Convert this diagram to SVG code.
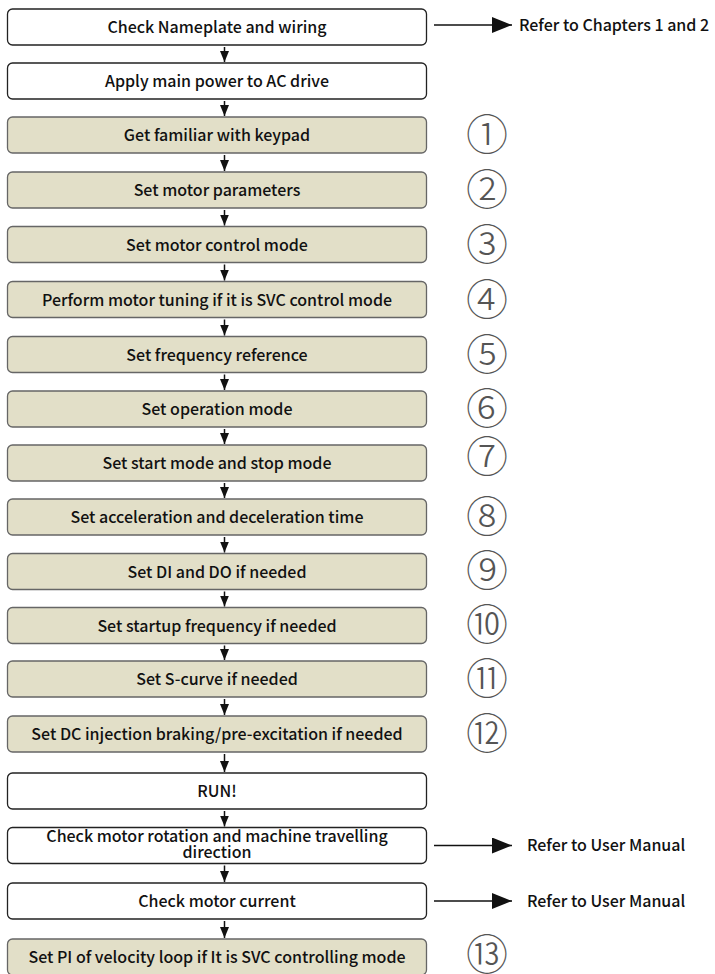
<svg xmlns="http://www.w3.org/2000/svg" width="715" height="974" viewBox="0 0 715 974">
<style>
  .bw { fill: #ffffff; stroke: #222222; stroke-width: 1.3; }
  .bb { fill: #e2dfc8; stroke: #666666; stroke-width: 1.3; }
  .t { font-family: "Noto Sans CJK SC", "Noto Sans", sans-serif; font-size: 16px; font-weight: 500; fill: #111111; text-anchor: middle; }
  .r { font-family: "Noto Sans CJK SC", "Noto Sans", sans-serif; font-size: 16px; font-weight: 500; fill: #111111; }
  .c { font-family: "Noto Sans CJK SC", sans-serif; font-size: 42px; font-weight: 300; fill: #555555; text-anchor: middle; }
  .v { stroke: #111111; stroke-width: 1.5; fill: none; marker-end: url(#vh); }
  .h { stroke: #111111; stroke-width: 1.5; fill: none; marker-end: url(#hh); }
</style>
<defs>
  <marker id="vh" markerUnits="userSpaceOnUse" markerWidth="11" markerHeight="9" refX="11" refY="4.5" orient="auto" viewBox="0 0 11 9">
    <path d="M0,0 L11,4.5 L0,9 Z" fill="#111111"/>
  </marker>
  <marker id="hh" markerUnits="userSpaceOnUse" markerWidth="20" markerHeight="16" refX="20" refY="8" orient="auto" viewBox="0 0 20 16">
    <path d="M0,0 L20,8 L0,16 Z" fill="#111111"/>
  </marker>
</defs>

<g id="n1"><rect class="bw" x="7.5" y="9" width="419" height="36" rx="5"/><text class="t" x="217" y="33">Check Nameplate and wiring</text></g>
<g id="n2"><rect class="bw" x="7.5" y="63" width="419" height="36" rx="5"/><text class="t" x="217" y="87">Apply main power to AC drive</text></g>
<g id="n3"><rect class="bb" x="7.5" y="117" width="419" height="36" rx="5"/><text class="t" x="217" y="141">Get familiar with keypad</text></g>
<g id="n4"><rect class="bb" x="7.5" y="172" width="419" height="36" rx="5"/><text class="t" x="217" y="196">Set motor parameters</text></g>
<g id="n5"><rect class="bb" x="7.5" y="226.5" width="419" height="36" rx="5"/><text class="t" x="217" y="250.5">Set motor control mode</text></g>
<g id="n6"><rect class="bb" x="7.5" y="281.5" width="419" height="36" rx="5"/><text class="t" x="217" y="305.5">Perform motor tuning if it is SVC control mode</text></g>
<g id="n7"><rect class="bb" x="7.5" y="336.5" width="419" height="36" rx="5"/><text class="t" x="217" y="360.5">Set frequency reference</text></g>
<g id="n8"><rect class="bb" x="7.5" y="391" width="419" height="36" rx="5"/><text class="t" x="217" y="415">Set operation mode</text></g>
<g id="n9"><rect class="bb" x="7.5" y="445" width="419" height="36" rx="5"/><text class="t" x="217" y="469">Set start mode and stop mode</text></g>
<g id="n10"><rect class="bb" x="7.5" y="499" width="419" height="36" rx="5"/><text class="t" x="217" y="523">Set acceleration and deceleration time</text></g>
<g id="n11"><rect class="bb" x="7.5" y="553.5" width="419" height="36" rx="5"/><text class="t" x="217" y="577.5">Set DI and DO if needed</text></g>
<g id="n12"><rect class="bb" x="7.5" y="607.5" width="419" height="36" rx="5"/><text class="t" x="217" y="631.5">Set startup frequency if needed</text></g>
<g id="n13"><rect class="bb" x="7.5" y="661" width="419" height="36" rx="5"/><text class="t" x="217" y="685">Set S-curve if needed</text></g>
<g id="n14"><rect class="bb" x="7.5" y="716" width="419" height="36" rx="5"/><text class="t" x="217" y="740">Set DC injection braking/pre-excitation if needed</text></g>
<g id="n15"><rect class="bw" x="7.5" y="773" width="419" height="36" rx="5"/><text class="t" x="217" y="797">RUN!</text></g>
<g id="n16"><rect class="bw" x="7.5" y="827.5" width="419" height="36" rx="5"/><text class="t" x="217" y="842">Check motor rotation and machine travelling</text><text class="t" x="217" y="857.5">direction</text></g>
<g id="n17"><rect class="bw" x="7.5" y="883" width="419" height="36" rx="5"/><text class="t" x="217" y="907">Check motor current</text></g>
<g id="n18"><rect class="bb" x="7.5" y="939" width="419" height="36" rx="5"/><text class="t" x="217" y="963">Set PI of velocity loop if It is SVC controlling mode</text></g>

<g id="ref1"><text class="r" x="519" y="31">Refer to Chapters 1 and 2</text></g>
<g id="ref2"><text class="r" x="527" y="851">Refer to User Manual</text></g>
<g id="ref3"><text class="r" x="527" y="907">Refer to User Manual</text></g>

<g id="steps">
  <text class="c" x="487" y="150">①</text>
  <text class="c" x="487" y="205">②</text>
  <text class="c" x="487" y="259.5">③</text>
  <text class="c" x="487" y="315">④</text>
  <text class="c" x="487" y="370">⑤</text>
  <text class="c" x="487" y="424">⑥</text>
  <text class="c" x="487" y="471.5">⑦</text>
  <text class="c" x="487" y="531.5">⑧</text>
  <text class="c" x="487" y="585.5">⑨</text>
  <text class="c" x="487" y="640">⑩</text>
  <text class="c" x="487" y="694">⑪</text>
  <text class="c" x="487" y="748.5">⑫</text>
  <text class="c" x="487" y="969.5">⑬</text>
</g>

<g id="connectors">
  <line class="v" x1="224.5" y1="47" x2="224.5" y2="62"/>
  <line class="v" x1="224.5" y1="101" x2="224.5" y2="116"/>
  <line class="v" x1="224.5" y1="155" x2="224.5" y2="171"/>
  <line class="v" x1="224.5" y1="210" x2="224.5" y2="225.5"/>
  <line class="v" x1="224.5" y1="264.5" x2="224.5" y2="280.5"/>
  <line class="v" x1="224.5" y1="319.5" x2="224.5" y2="335.5"/>
  <line class="v" x1="224.5" y1="374.5" x2="224.5" y2="390"/>
  <line class="v" x1="224.5" y1="429" x2="224.5" y2="444"/>
  <line class="v" x1="224.5" y1="483" x2="224.5" y2="498"/>
  <line class="v" x1="224.5" y1="537" x2="224.5" y2="552.5"/>
  <line class="v" x1="224.5" y1="591.5" x2="224.5" y2="606.5"/>
  <line class="v" x1="224.5" y1="645.5" x2="224.5" y2="660"/>
  <line class="v" x1="224.5" y1="699" x2="224.5" y2="715"/>
  <line class="v" x1="224.5" y1="754" x2="224.5" y2="772"/>
  <line class="v" x1="224.5" y1="811" x2="224.5" y2="826.5"/>
  <line class="v" x1="224.5" y1="865.5" x2="224.5" y2="882"/>
  <line class="v" x1="224.5" y1="921" x2="224.5" y2="938"/>
  <line class="h" x1="434" y1="25" x2="512" y2="25"/>
  <line class="h" x1="434" y1="845.5" x2="512" y2="845.5"/>
  <line class="h" x1="434" y1="901" x2="512" y2="901"/>
</g>
</svg>
